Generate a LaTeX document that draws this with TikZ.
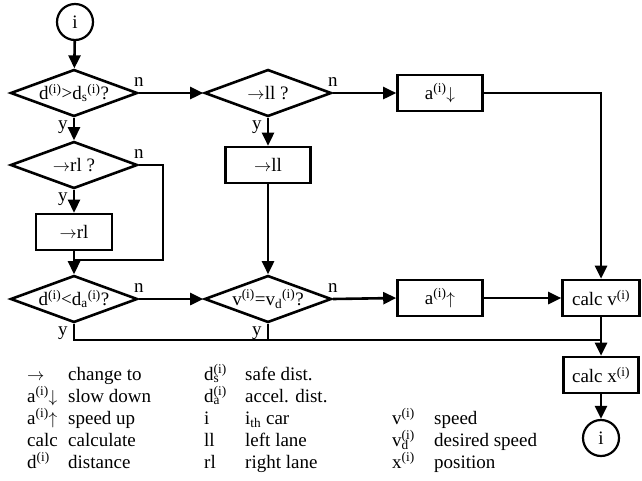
\documentclass[tikz,border=0pt]{standalone}
\usepackage{fontspec}
\setmainfont{Liberation Serif}
\usepackage{tikz}
\usetikzlibrary{
    shapes.geometric,
    arrows.meta,
    positioning,
    calc
}

\newcommand{\supi}{\textsuperscript{(i)}}
\newcommand{\subsupi}[1]{\textsubscript{#1}\textsuperscript{(i)}}
\newcommand{\stacki}[1]{\rlap{\textsubscript{#1}}\textsuperscript{(i)}}
\newcommand{\chto}{$\rightarrow$}

\begin{document}
\begin{tikzpicture}[
    x=1pt, y=-1pt,
    >={Triangle[length=13pt,width=12pt]},
    every node/.style={font=\fontsize{19}{22}\selectfont},
    flow/.style={line width=2.6pt},
    decision/.style={draw, line width=2.6pt, shape=diamond, aspect=2.7, inner sep=-4pt, minimum width=127pt, minimum height=47pt},
    task/.style={draw, line width=2.6pt, rectangle, minimum width=85pt, minimum height=36pt, inner sep=2pt},
    term/.style={draw, line width=2.2pt, circle, minimum size=36pt, inner sep=0pt},
    yn/.style={inner sep=1pt},
    keysym/.style={anchor=base west, inner sep=0pt},
    keytxt/.style={anchor=base west, inner sep=0pt}
]
\useasboundingbox (0,0) rectangle (642,480);

% ==================== FLOW CHART ====================
\node[term] (start) at (75,22) {i};

\node[decision] (dgap) at (74,93) {d\supi>d\subsupi{s}?};
\node[decision] (dll) at (268,93) {\chto ll ?};
\node[task] (slow) at (440,93) {a\supi$\downarrow$};

\node[decision] (drl) at (74,165) {\chto rl ?};
\node[task] (toll) at (268,165) {\chto ll};
\node[task, minimum width=76pt] (torl) at (74,232) {\chto rl};

\node[decision] (dacc) at (74,299) {d\supi<d\subsupi{a}?};
\node[decision] (dvel) at (268,299) {v\supi=v\subsupi{d}?};
\node[task] (fast) at (440,298) {a\supi$\uparrow$};
\node[task, minimum width=77pt] (calcv) at (601,298) {calc v\supi};

\node[task, minimum width=75pt] (calcx) at (601,375) {calc x\supi};
\node[term] (stop) at (601,438) {i};

\coordinate (loopc) at (163,260);
\coordinate (loopin) at (74,260);
\coordinate (merge) at (601,340);

% connectors
\draw[flow,->] (start) -- (dgap);
\draw[flow,->] (dgap.east) node[yn, above=4pt] {n} -- (dll.west);
\draw[flow,->] (dll.east) node[yn, above=4pt] {n} -- (slow.west);
\draw[flow,->] (slow.east) -| (calcv.north);
\draw[flow,->] (dgap.south) node[yn, below left=1pt and 4pt] {y} -- (drl.north);
\draw[flow,->] (dll.south) node[yn, below left=1pt and 4pt] {y} -- (toll.north);
\draw[flow,->] (drl.south) node[yn, below left=1pt and 4pt] {y} -- (torl.north);
\draw[flow] (drl.east) node[yn, above=4pt] {n} -| (loopc) -- (loopin);
\draw[flow,->] (torl.south) -- (dacc.north);
\draw[flow,->] (toll.south) -- (dvel.north);
\draw[flow,->] (dacc.east) node[yn, above=4pt] {n} -- (dvel.west);
\draw[flow,->] (dvel.east) node[yn, above=4pt] {n} -- (fast.west);
\draw[flow,->] (fast.east) -- (calcv.west);
\draw[flow] (dacc.south) node[yn, below left=1pt and 4pt] {y} |- (merge);
\draw[flow] (dvel.south) node[yn, below left=1pt and 4pt] {y} -- (dvel.south |- merge);
\draw[flow,->] (calcv.south) -- (calcx.north);
\draw[flow,->] (calcx.south) -- (stop.north);

% ==================== LEGEND ====================
\foreach \sym/\txt [count=\r] in {\chto/change to, a\supi$\downarrow$/slow down, a\supi$\uparrow$/speed up, calc/calculate, d\supi/distance} {
    \node[keysym] (ksa\r) at (27,358+22*\r) {\sym};
    \node[keytxt] (kta\r) at (68,358+22*\r) {\txt};
}
\foreach \sym/\txt [count=\r] in {d\stacki{s}/safe dist., d\stacki{a}/accel. dist., i/{i\textsubscript{th} car}, ll/left lane, rl/right lane} {
    \node[keysym] (ksb\r) at (204,358+22*\r) {\sym};
    \node[keytxt] (ktb\r) at (245,358+22*\r) {\txt};
}
\foreach \sym/\txt [count=\r from 3] in {v\supi/speed, v\stacki{d}/desired speed, x\supi/position} {
    \node[keysym] (ksc\r) at (392,358+22*\r) {\sym};
    \node[keytxt] (ktc\r) at (434,358+22*\r) {\txt};
}
\end{tikzpicture}
\end{document}
